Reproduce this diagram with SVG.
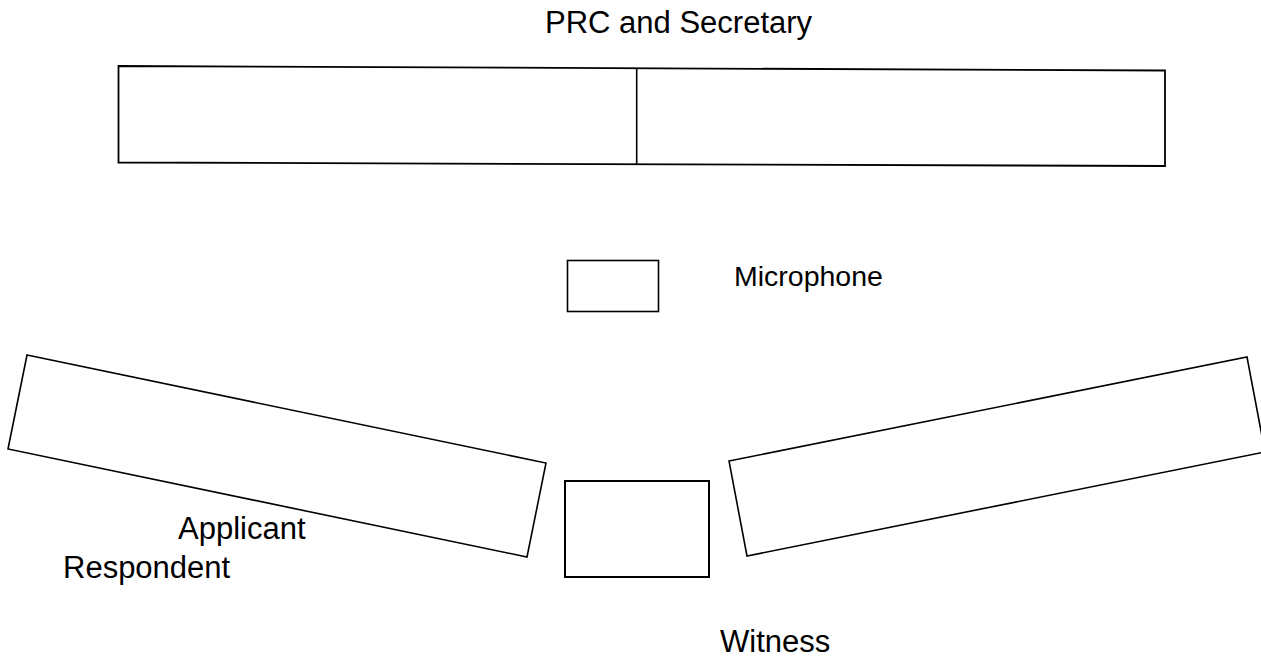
<svg xmlns="http://www.w3.org/2000/svg" width="1261" height="660" viewBox="0 0 1261 660">
<style>
.s{fill:#fff;stroke:#000;stroke-width:1.6;stroke-linejoin:miter}
.t{font-family:"Liberation Sans",Arial,sans-serif;font-size:31px;fill:#000}
</style>
<rect width="1261" height="660" fill="#fff"/>
<g id="prc-table">
<polygon class="s" points="118.5,66 1165,70.5 1165,166 118.5,162.5" style="stroke-width:1.8"/>
<line class="s" x1="636.7" y1="68.2" x2="636.7" y2="164.3"/>
</g>
<g id="microphone">
<rect class="s" x="567.5" y="260.5" width="91" height="51"/>
</g>
<g id="applicant-table">
<polygon class="s" points="27,355 546,463 527,557 8,449"/>
</g>
<g id="respondent-table">
<polygon class="s" points="729,461 1247,357 1265,452 747,556"/>
</g>
<g id="witness-box">
<rect class="s" x="565" y="481" width="144" height="96" style="stroke-width:2"/>
</g>
<g id="labels">
<text class="t" x="545" y="33">PRC and Secretary</text>
<text class="t" x="734" y="286" style="font-size:28.5px">Microphone</text>
<text class="t" x="178" y="539">Applicant</text>
<text class="t" x="63" y="578">Respondent</text>
<text class="t" x="720" y="652">Witness</text>
</g>
<g id="connectors"/>
</svg>
